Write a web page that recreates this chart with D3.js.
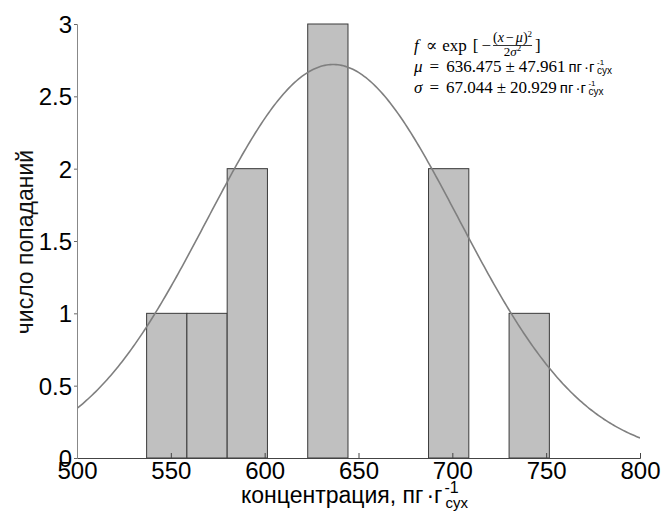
<!DOCTYPE html>
<html>
<head>
<meta charset="utf-8">
<script src="https://cdn.jsdelivr.net/npm/d3@7"></script>
<style>
  html, body { margin: 0; padding: 0; background: #fff; }
  svg { display: block; }
</style>
</head>
<body>
<svg id="chart" width="661" height="512"></svg>
<script>
// Histogram bins (lower edge, upper edge) and counts
const binLower = [537.1, 558.56, 580.02, 601.48, 622.94, 644.4, 665.86, 687.32, 708.78, 730.24];
const binUpper = [558.56, 580.02, 601.48, 622.94, 644.4, 665.86, 687.32, 708.78, 730.24, 751.7];
const counts   = [1, 1, 2, 0, 3, 0, 0, 2, 0, 1];

// Gaussian fit parameters
const fitMu = 636.475, fitMuErr = 47.961;
const fitSigma = 67.044, fitSigmaErr = 20.929;
const fitAmp = 2.72;

const xTicks = [500, 550, 600, 650, 700, 750, 800];
const yTicks = [0, 0.5, 1, 1.5, 2, 2.5, 3];

const svg = d3.select("#chart");
const plotLeft = 77, plotRight = 640, plotTop = 24, plotBottom = 458;

const x = d3.scaleLinear().domain([500, 800]).range([plotLeft, plotRight]);
const y = d3.scaleLinear().domain([0, 3]).range([plotBottom, plotTop]);

const sans = "'Liberation Sans', Arial, sans-serif";
const serif = "'Liberation Serif', 'DejaVu Serif', serif";

// bars
const bins = counts.map((c, i) => ({ x0: binLower[i], x1: binUpper[i], c }));
svg.append("g").selectAll("rect")
  .data(bins.filter(d => d.c > 0))
  .join("rect")
  .attr("x", d => x(d.x0))
  .attr("y", d => y(d.c))
  .attr("width", d => x(d.x1) - x(d.x0))
  .attr("height", d => y(0) - y(d.c))
  .attr("fill", "#c0c0c0")
  .attr("stroke", "#3a3a3a")
  .attr("stroke-width", 1);

// fitted curve
svg.append("clipPath").attr("id", "plotclip")
  .append("rect").attr("x", plotLeft).attr("y", plotTop)
  .attr("width", plotRight - plotLeft).attr("height", plotBottom - plotTop);
const gauss = v => fitAmp * Math.exp(-((v - fitMu) ** 2) / (2 * fitSigma * fitSigma));
const curvePts = d3.range(500, 800.01, 1).map(v => [v, gauss(v)]);
svg.append("path")
  .attr("clip-path", "url(#plotclip)")
  .attr("d", d3.line().x(d => x(d[0])).y(d => y(d[1]))(curvePts))
  .attr("fill", "none")
  .attr("stroke", "#7f7f7f")
  .attr("stroke-width", 1.6);

// x axis
const gx = svg.append("g").attr("transform", `translate(0,${plotBottom})`)
  .call(d3.axisBottom(x).tickValues(xTicks).tickSize(-5).tickFormat(d3.format("d")));
gx.select(".domain").attr("stroke", "#444");
gx.selectAll(".tick line").attr("stroke", "#444");
gx.selectAll(".tick text").attr("font-family", sans).attr("font-size", 24).attr("fill", "#000")
  .attr("y", 21).attr("dy", 0);

// y axis
const gy = svg.append("g").attr("transform", `translate(${plotLeft},0)`)
  .call(d3.axisLeft(y).tickValues(yTicks).tickSize(3).tickPadding(2).tickFormat(d => d));
gy.select(".domain").attr("stroke", "#888");
gy.selectAll(".tick line").attr("stroke", "#666");
gy.selectAll(".tick text").attr("font-family", sans).attr("font-size", 24).attr("fill", "#000").attr("dy", "0.36em");

// axis titles
svg.append("text")
  .attr("transform", `translate(33,242) rotate(-90)`)
  .attr("text-anchor", "middle")
  .attr("font-family", sans).attr("font-size", 23).attr("fill", "#111")
  .text("число попаданий");

const xl = svg.append("text")
  .attr("x", 241).attr("y", 503)
  .attr("font-family", sans).attr("font-size", 23).attr("fill", "#000");
xl.append("tspan").text("концентрация, пг");
xl.append("tspan").attr("dx", 3).text("·г");
const xlBox = xl.node().getBBox();
const xlEnd = xlBox.x + xlBox.width;
svg.append("text").attr("x", xlEnd + 2).attr("y", 493)
  .attr("font-family", sans).attr("font-size", 16).text("-1");
svg.append("text").attr("x", xlEnd + 3).attr("y", 508)
  .attr("font-family", sans).attr("font-size", 15).text("сух");

// fit annotation
const ann = svg.append("g").attr("fill", "#000");
const annX = 414;
const l1 = ann.append("text").attr("x", annX).attr("y", 51).attr("font-family", serif).attr("font-size", 17);
l1.append("tspan").attr("font-style", "italic").text("f");
l1.append("tspan").attr("dx", 7).text("∝");
l1.append("tspan").attr("dx", 5).text("exp");
l1.append("tspan").attr("dx", 6).text("[");
l1.append("tspan").attr("dx", 3).text("−");
const l1Box = l1.node().getBBox();
const fracX = l1Box.x + l1Box.width + 2;
const num = ann.append("text").attr("x", fracX).attr("y", 42).attr("font-family", serif).attr("font-size", 14);
num.append("tspan").text("(");
num.append("tspan").attr("font-style", "italic").text("x");
num.append("tspan").attr("dx", 2).text("−");
num.append("tspan").attr("dx", 2).attr("font-style", "italic").text("μ");
num.append("tspan").text(")");
num.append("tspan").attr("font-size", 9).attr("dy", -5).text("2");
const numBox = num.node().getBBox();
ann.append("line").attr("x1", fracX).attr("x2", fracX + numBox.width).attr("y1", 45.5).attr("y2", 45.5)
  .attr("stroke", "#000").attr("stroke-width", 0.8);
const den = ann.append("text").attr("x", fracX + numBox.width / 2).attr("y", 56)
  .attr("text-anchor", "middle").attr("font-family", serif).attr("font-size", 13);
den.append("tspan").text("2");
den.append("tspan").attr("font-style", "italic").text("σ");
den.append("tspan").attr("font-size", 9).attr("dy", -5).text("2");
ann.append("text").attr("x", fracX + numBox.width + 3).attr("y", 51)
  .attr("font-family", serif).attr("font-size", 17).text("]");

function paramLine(sym, val, err, yy) {
  const t = ann.append("text").attr("x", annX).attr("y", yy).attr("font-family", serif).attr("font-size", 17);
  t.append("tspan").attr("font-style", "italic").text(sym);
  t.append("tspan").attr("dx", 7).text("=");
  t.append("tspan").attr("dx", 7).text(val.toFixed(3));
  t.append("tspan").attr("dx", 4).text("±");
  t.append("tspan").attr("dx", 4).text(err.toFixed(3));
  t.append("tspan").attr("dx", 3).attr("font-family", sans).attr("font-size", 15).text("пг");
  t.append("tspan").attr("dx", 2).attr("font-family", sans).attr("font-size", 15).text("·г");
  const b = t.node().getBBox();
  const end = b.x + b.width;
  ann.append("text").attr("x", end + 2).attr("y", yy - 7).attr("font-family", sans).attr("font-size", 8).text("-1");
  ann.append("text").attr("x", end + 2).attr("y", yy + 2).attr("font-family", sans).attr("font-size", 10).text("сух");
}
paramLine("μ", fitMu, fitMuErr, 72);
paramLine("σ", fitSigma, fitSigmaErr, 93);
</script>
</body>
</html>
